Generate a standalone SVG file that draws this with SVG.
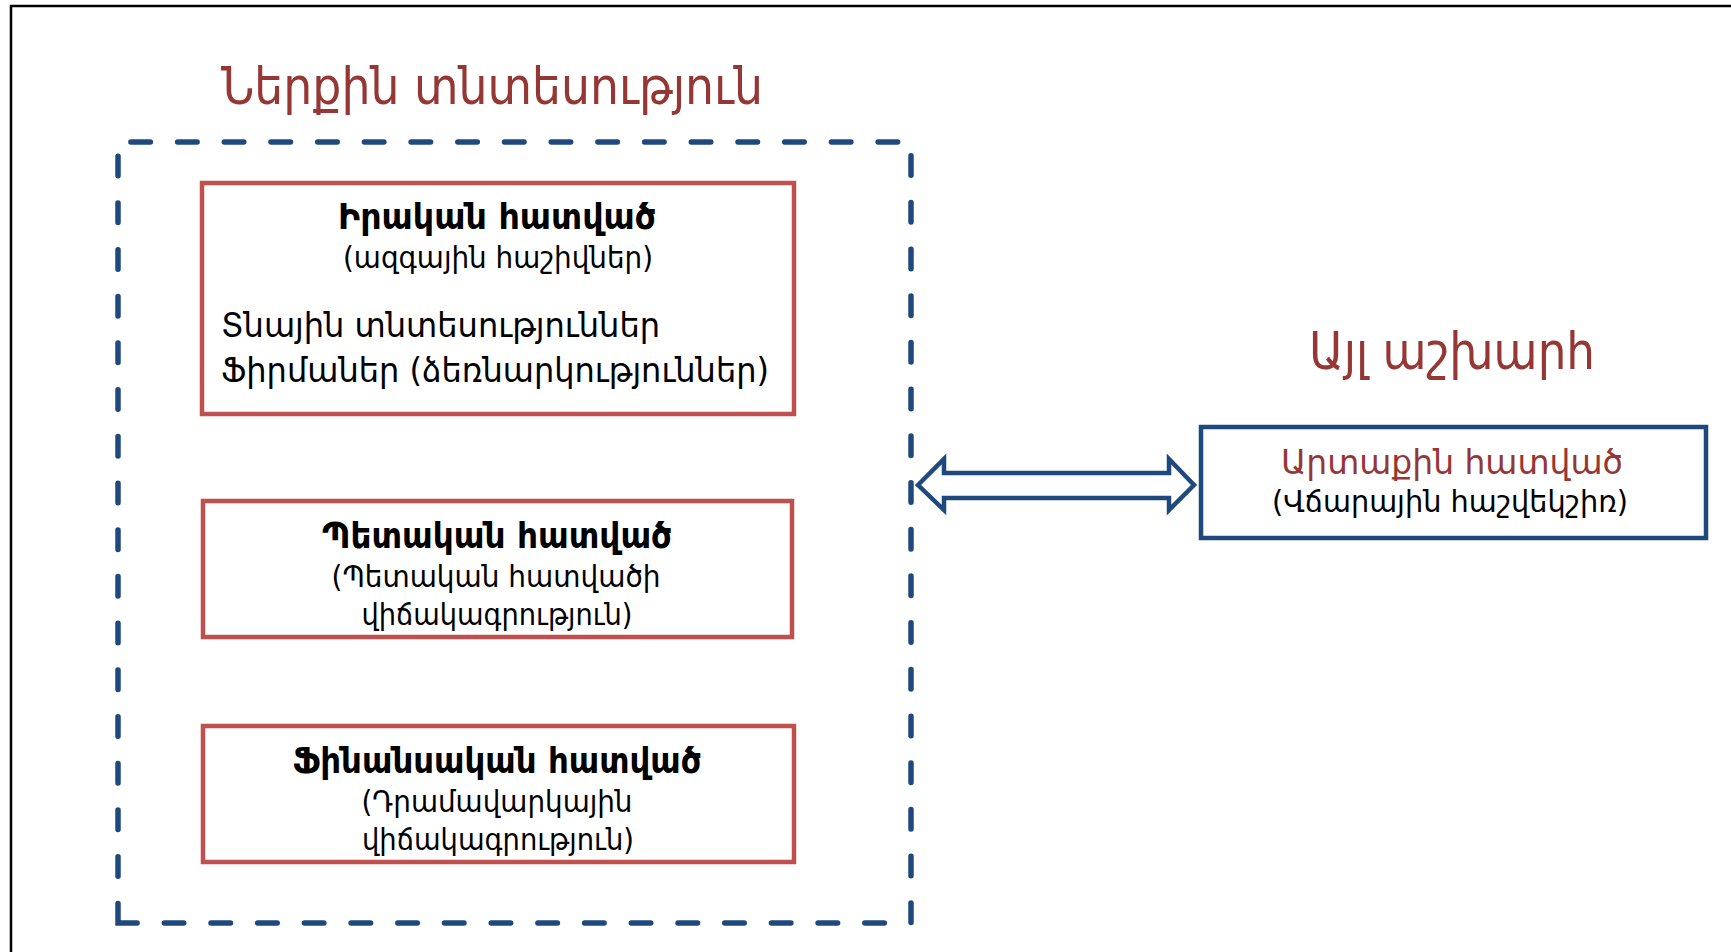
<svg xmlns="http://www.w3.org/2000/svg" width="1731" height="952" viewBox="0 0 1731 952">
<style>
text{font-family:"DejaVu Sans Condensed","DejaVu Sans","Noto Sans",sans-serif;fill:#000;}
.h{font-size:52px;fill:#953735;}
.t{font-size:35px;font-weight:bold;}
.s{font-size:30px;}
.b{font-size:34px;}
.r{fill:#953735;font-size:34px;}
.box{fill:#fff;stroke:#C0504D;stroke-width:4.5;}
.bbox{fill:#fff;stroke:#1F497D;stroke-width:4.5;}
</style>
<rect width="1731" height="952" fill="#fff"/>
<g id="frame">
<path d="M11,952 L11,6 L1731,6" fill="none" stroke="#000" stroke-width="2.5"/>
</g>
<g id="domestic">
<text class="h" x="492" y="104" text-anchor="middle" textLength="542" lengthAdjust="spacingAndGlyphs">Ներքին տնտեսություն</text>
<path d="M118,923 L118,142 L911,142 L911,923 Z" fill="none" stroke="#1F497D" stroke-width="5.5" stroke-linecap="round" stroke-dasharray="19.5 27.2"/>
</g>
<g id="real">
<rect class="box" x="202" y="183" width="592" height="231"/>
<text class="t" x="497" y="229" text-anchor="middle" textLength="318" lengthAdjust="spacingAndGlyphs">Իրական հատված</text>
<text class="s" x="498" y="268" text-anchor="middle" textLength="310" lengthAdjust="spacingAndGlyphs">(ազգային հաշիվներ)</text>
<text class="b" x="221" y="337" textLength="439" lengthAdjust="spacingAndGlyphs">Տնային տնտեսություններ</text>
<text class="b" x="221" y="382" textLength="548" lengthAdjust="spacingAndGlyphs">Ֆիրմաներ (ձեռնարկություններ)</text>
</g>
<g id="government">
<rect class="box" x="203" y="501" width="589" height="136"/>
<text class="t" x="497" y="548" text-anchor="middle" textLength="350" lengthAdjust="spacingAndGlyphs">Պետական հատված</text>
<text class="s" x="496" y="587" text-anchor="middle" textLength="329" lengthAdjust="spacingAndGlyphs">(Պետական հատվածի</text>
<text class="s" x="497" y="625" text-anchor="middle" textLength="271" lengthAdjust="spacingAndGlyphs">վիճակագրություն)</text>
</g>
<g id="financial">
<rect class="box" x="203" y="726" width="591" height="136"/>
<text class="t" x="497" y="773" text-anchor="middle" textLength="409" lengthAdjust="spacingAndGlyphs">Ֆինանսական հատված</text>
<text class="s" x="497" y="812" text-anchor="middle" textLength="271" lengthAdjust="spacingAndGlyphs">(Դրամավարկային</text>
<text class="s" x="498" y="850" text-anchor="middle" textLength="272" lengthAdjust="spacingAndGlyphs">վիճակագրություն)</text>
</g>
<g id="rest-of-world">
<text class="h" x="1452" y="369" text-anchor="middle" textLength="286" lengthAdjust="spacingAndGlyphs">Այլ աշխարհ</text>
</g>
<g id="external">
<rect class="bbox" x="1201" y="427" width="505" height="111"/>
<text class="r" x="1452" y="474" text-anchor="middle" textLength="342" lengthAdjust="spacingAndGlyphs">Արտաքին հատված</text>
<text class="s" x="1450" y="512" text-anchor="middle" textLength="356" lengthAdjust="spacingAndGlyphs">(Վճարային հաշվեկշիռ)</text>
</g>
<g id="connectors">
<polygon points="918,485 944,459 944,473 1169,473 1169,459 1194,485 1169,510 1169,498 944,498 944,510" fill="#fff" stroke="#1F497D" stroke-width="4.5" stroke-linejoin="miter"/>
</g>
</svg>
